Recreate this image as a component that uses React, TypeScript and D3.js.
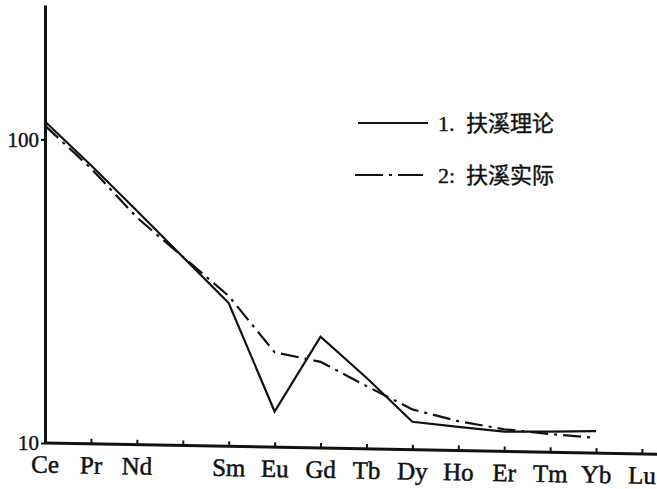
import React, { useEffect, useRef } from 'react';
import * as d3 from 'd3';

// REE order on the x axis (Pm has a tick but no label)
const elements = ['Ce', 'Pr', 'Nd', 'Pm', 'Sm', 'Eu', 'Gd', 'Tb', 'Dy', 'Ho', 'Er', 'Tm', 'Yb', 'Lu'];
const tickLabels = ['Ce', 'Pr', 'Nd', '', 'Sm', 'Eu', 'Gd', 'Tb', 'Dy', 'Ho', 'Er', 'Tm', 'Yb', 'Lu'];
const seriesElements = ['Ce', 'Pr', 'Nd', 'Sm', 'Eu', 'Gd', 'Tb', 'Dy', 'Ho', 'Er', 'Tm', 'Yb'];
const theoretical = [114.5, 82.2, 58.2, 28.9, 12.7, 22.4, 16.4, 11.75, 11.3, 10.9, 10.9, 10.95];
const actual = [111, 80.3, 55.3, 30.5, 19.9, 18.5, 15.4, 12.9, 11.8, 11.1, 10.7, 10.4];
const yTicks = [10, 100];
const legendNums = ['1. ', '2: '];
const legendNames = ['扶溪理论', '扶溪实际'];

const W = 657;
const H = 489;
const DASH = '18,6,3,6';

const App = () => {
  const svgRef = useRef<SVGSVGElement>(null);

  useEffect(() => {
    document.body.style.margin = '0';
    const svg = d3.select(svgRef.current);
    svg.selectAll('*').remove();

    const x = d3.scalePoint().domain(elements).range([45, 642]);
    const y = d3.scaleLog().domain([10, 277]).range([443, 5]);

    // x axis, tilted slightly like the scan
    const xg = svg.append('g')
      .attr('transform', 'translate(0,443) rotate(1.05,45,0)');
    xg.append('line')
      .attr('x1', 45).attr('x2', 660)
      .attr('y1', 0).attr('y2', 0)
      .attr('stroke', '#111').attr('stroke-width', 3);
    xg.call(
      d3.axisBottom(x)
        .tickSizeInner(-5)
        .tickSizeOuter(0)
        .tickPadding(12)
        .tickFormat((d, i) => tickLabels[i])
    );
    xg.select('.domain').remove();
    xg.selectAll('.tick line').attr('stroke', '#111').attr('stroke-width', 2);
    xg.selectAll('.tick text')
      .attr('fill', '#111')
      .attr('stroke', '#111')
      .attr('stroke-width', 0.5)
      .style('font-family', '"Liberation Serif", serif')
      .style('font-size', '25px');

    // y axis
    const yg = svg.append('g').attr('transform', 'translate(45,0)');
    yg.call(
      d3.axisLeft(y)
        .tickValues(yTicks)
        .tickFormat(d3.format('d'))
        .tickSizeInner(4)
        .tickSizeOuter(0)
        .tickPadding(2)
    );
    yg.select('.domain').attr('stroke', '#111').attr('stroke-width', 3);
    yg.selectAll('.tick line').attr('stroke', '#111').attr('stroke-width', 2);
    yg.selectAll('.tick text')
      .attr('fill', '#111')
      .attr('stroke', '#111')
      .attr('stroke-width', 0.4)
      .style('font-family', '"Liberation Serif", serif')
      .style('font-size', '21px');

    const line = d3.line<number>()
      .x((d, i) => x(seriesElements[i]) as number)
      .y(d => y(d));

    svg.append('path')
      .datum(theoretical)
      .attr('fill', 'none')
      .attr('stroke', '#111')
      .attr('stroke-width', 2.2)
      .attr('d', line);

    svg.append('path')
      .datum(actual)
      .attr('fill', 'none')
      .attr('stroke', '#111')
      .attr('stroke-width', 2.2)
      .attr('stroke-dasharray', DASH)
      .attr('d', line);

    // legend
    const legend = svg.append('g');
    [0, 1].forEach(i => {
      const ly = i === 0 ? 123 : 175;
      legend.append('line')
        .attr('x1', i === 0 ? 358 : 355)
        .attr('x2', i === 0 ? 428 : 423)
        .attr('y1', ly).attr('y2', ly)
        .attr('stroke', '#111')
        .attr('stroke-width', 2)
        .attr('stroke-dasharray', i === 0 ? null : '28,6,3,6');
      const t = legend.append('text')
        .attr('x', 438)
        .attr('y', ly + 8)
        .attr('fill', '#111')
        .attr('stroke', '#111')
        .attr('stroke-width', 0.4);
      t.append('tspan')
        .style('font-family', '"Liberation Serif", serif')
        .style('font-size', '22px')
        .text(legendNums[i]);
      t.append('tspan')
        .attr('x', 466)
        .style('font-family', '"Noto Sans CJK SC", sans-serif')
        .style('font-size', '22px')
        .text(legendNames[i]);
    });
  }, []);

  return (
    <svg ref={svgRef} width={W} height={H} style={{ display: 'block', background: '#fff' }} />
  );
};

export default App;
